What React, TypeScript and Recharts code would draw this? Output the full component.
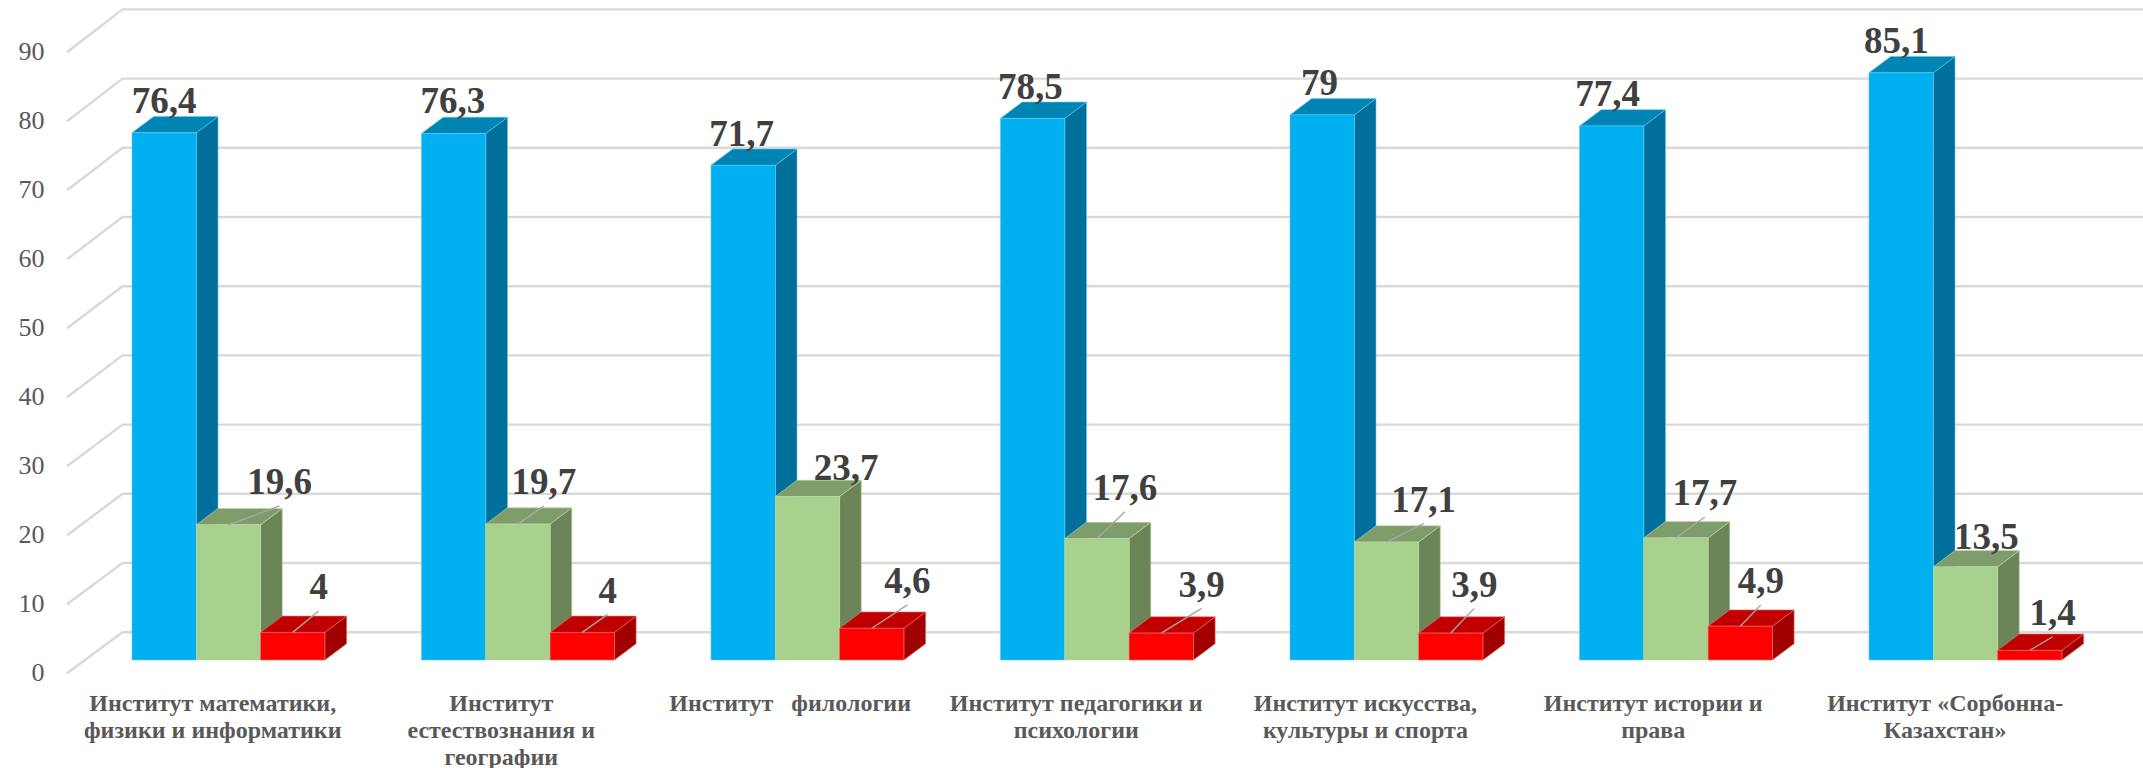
import { BarChart, Bar, XAxis, YAxis, CartesianGrid, LabelList } from 'recharts';

const categories = [
  'Институт математики,\nфизики и информатики',
  'Институт\nестествознания и\nгеографии',
  'Институт   филологии',
  'Институт педагогики и\nпсихологии',
  'Институт искусства,\nкультуры и спорта',
  'Институт истории и\nправа',
  'Институт «Сорбонна-\nКазахстан»',
];
const blueValues = [76.4, 76.3, 71.7, 78.5, 79, 77.4, 85.1];
const greenValues = [19.6, 19.7, 23.7, 17.6, 17.1, 17.7, 13.5];
const redValues = [4, 4, 4.6, 3.9, 3.9, 4.9, 1.4];
const yTicks = [0, 10, 20, 30, 40, 50, 60, 70, 80, 90];

// hand placed labels in the original: [dx, dy] away from the bar's front top centre
const blueNudges = [[0, -19.8], [-0.7, -20.2], [-1.5, -19.3], [-2.4, -19], [-2.7, -19.9], [-4, -19.9], [-4.8, -19.5]];
const greenNudges = [[51.2, -30.5], [26, -29.8], [38.6, -16.5], [27.9, -38.6], [37.1, -30], [28.8, -32.6], [20.9, -17.5]];
const redNudges = [[25.9, -33.1], [25.4, -29.7], [35.6, -35], [40.3, -36.4], [23.5, -36.4], [20.5, -32.9], [22.9, -25.3]];
const categoryShift = [-16, -17, -17.6, -21, -21.3, -23, -20.6];

const chartData = categories.map((name, i) => ({
  name,
  blue: blueValues[i],
  green: greenValues[i],
  red: redValues[i],
}));

const FONT = '"Liberation Serif", "Times New Roman", serif';
const DEPTH_X = 21.7;
const DEPTH_Y = 16.3;

function Box3D({ x, y, width, height, front, top, side, edge }: any) {
  const r = x + width;
  const b = y + height;
  return (
    <g>
      <polygon points={`${r},${y} ${r + DEPTH_X},${y - DEPTH_Y} ${r + DEPTH_X},${b - DEPTH_Y} ${r},${b}`} fill={side} stroke={edge} strokeWidth={0.6} />
      <polygon points={`${x},${y} ${x + DEPTH_X},${y - DEPTH_Y} ${r + DEPTH_X},${y - DEPTH_Y} ${r},${y}`} fill={top} stroke={edge} strokeWidth={0.6} />
      <rect x={x} y={y} width={width} height={height} fill={front} stroke={edge} strokeWidth={0.6} />
    </g>
  );
}

const blueShape = (props: any) => <Box3D {...props} front="#00b0f0" top="#0084b4" side="#006f9c" edge="#5cc8f0" />;
const greenShape = (props: any) => <Box3D {...props} front="#a9d18e" top="#7f9d6b" side="#6b8559" edge="#bcd9a8" />;
const redShape = (props: any) => <Box3D {...props} front="#ff0000" top="#c00000" side="#a00000" edge="#f26a6a" />;

const valueLabel = (nudges: number[][], withLeader: boolean) => (props: any) => {
  const { x, y, width, index, value } = props;
  const [dx, dy] = nudges[index];
  const cx = x + width / 2;
  const tx = cx + dx;
  const ty = y + dy;
  return (
    <g>
      {withLeader && dy < -24 && (
        <line x1={cx} y1={y} x2={tx} y2={ty + 11.7} stroke="#a6a6a6" strokeWidth={1.4} />
      )}
      <text x={tx} y={ty} textAnchor="middle" fontFamily={FONT} fontWeight="bold" fontSize={37} fill="#404040">
        {String(value).replace('.', ',')}
      </text>
    </g>
  );
};

// wall line: runs along the floor depth from the axis, then across the back wall
const wallLine = (props: any) => {
  const { y1, key } = props;
  const backY = 632.2 - (660 - y1) * 1.0029;
  const frontY = y1 + 13.3;
  return (
    <polyline
      key={key}
      points={`67,${frontY} 122.5,${backY} 2143,${backY}`}
      fill="none"
      stroke="#d9d9d9"
      strokeWidth={2.4}
    />
  );
};

const valueTick = (props: any) => (
  <text x={44.5} y={props.y + 21.4} textAnchor="end" fontFamily={FONT} fontSize={26} fill="#595959">
    {props.payload.value}
  </text>
);

const categoryTick = (props: any) => {
  const { x, y, payload, index } = props;
  const lines = String(payload.value).split('\n');
  return (
    <text textAnchor="middle" fontFamily={FONT} fontWeight="bold" fontSize={24} fill="#595959" style={{ whiteSpace: 'pre' }}>
      {lines.map((line, i) => (
        <tspan key={i} x={x + categoryShift[index]} y={y + 50.5 + i * 27.3}>{line}</tspan>
      ))}
    </text>
  );
};

export default function App() {
  return (
    <div style={{ position: 'absolute', left: 0, top: 0, background: '#fff' }}>
      <BarChart
        width={2143}
        height={768}
        data={chartData}
        margin={{ top: 39, right: 32.5, bottom: 0, left: 0 }}
        barGap={0}
        barSize={64.3}
      >
        <CartesianGrid horizontal={wallLine} vertical={false} />
        <XAxis dataKey="name" height={108} interval={0} axisLine={false} tickLine={false} tickSize={0} tickMargin={0} tick={categoryTick} />
        <YAxis width={84} domain={[0, 90]} ticks={yTicks} axisLine={false} tickLine={false} tick={valueTick} />
        <Bar dataKey="blue" shape={blueShape} isAnimationActive={false}>
          <LabelList dataKey="blue" content={valueLabel(blueNudges, false)} />
        </Bar>
        <Bar dataKey="green" shape={greenShape} isAnimationActive={false}>
          <LabelList dataKey="green" content={valueLabel(greenNudges, true)} />
        </Bar>
        <Bar dataKey="red" shape={redShape} isAnimationActive={false}>
          <LabelList dataKey="red" content={valueLabel(redNudges, true)} />
        </Bar>
      </BarChart>
    </div>
  );
}
